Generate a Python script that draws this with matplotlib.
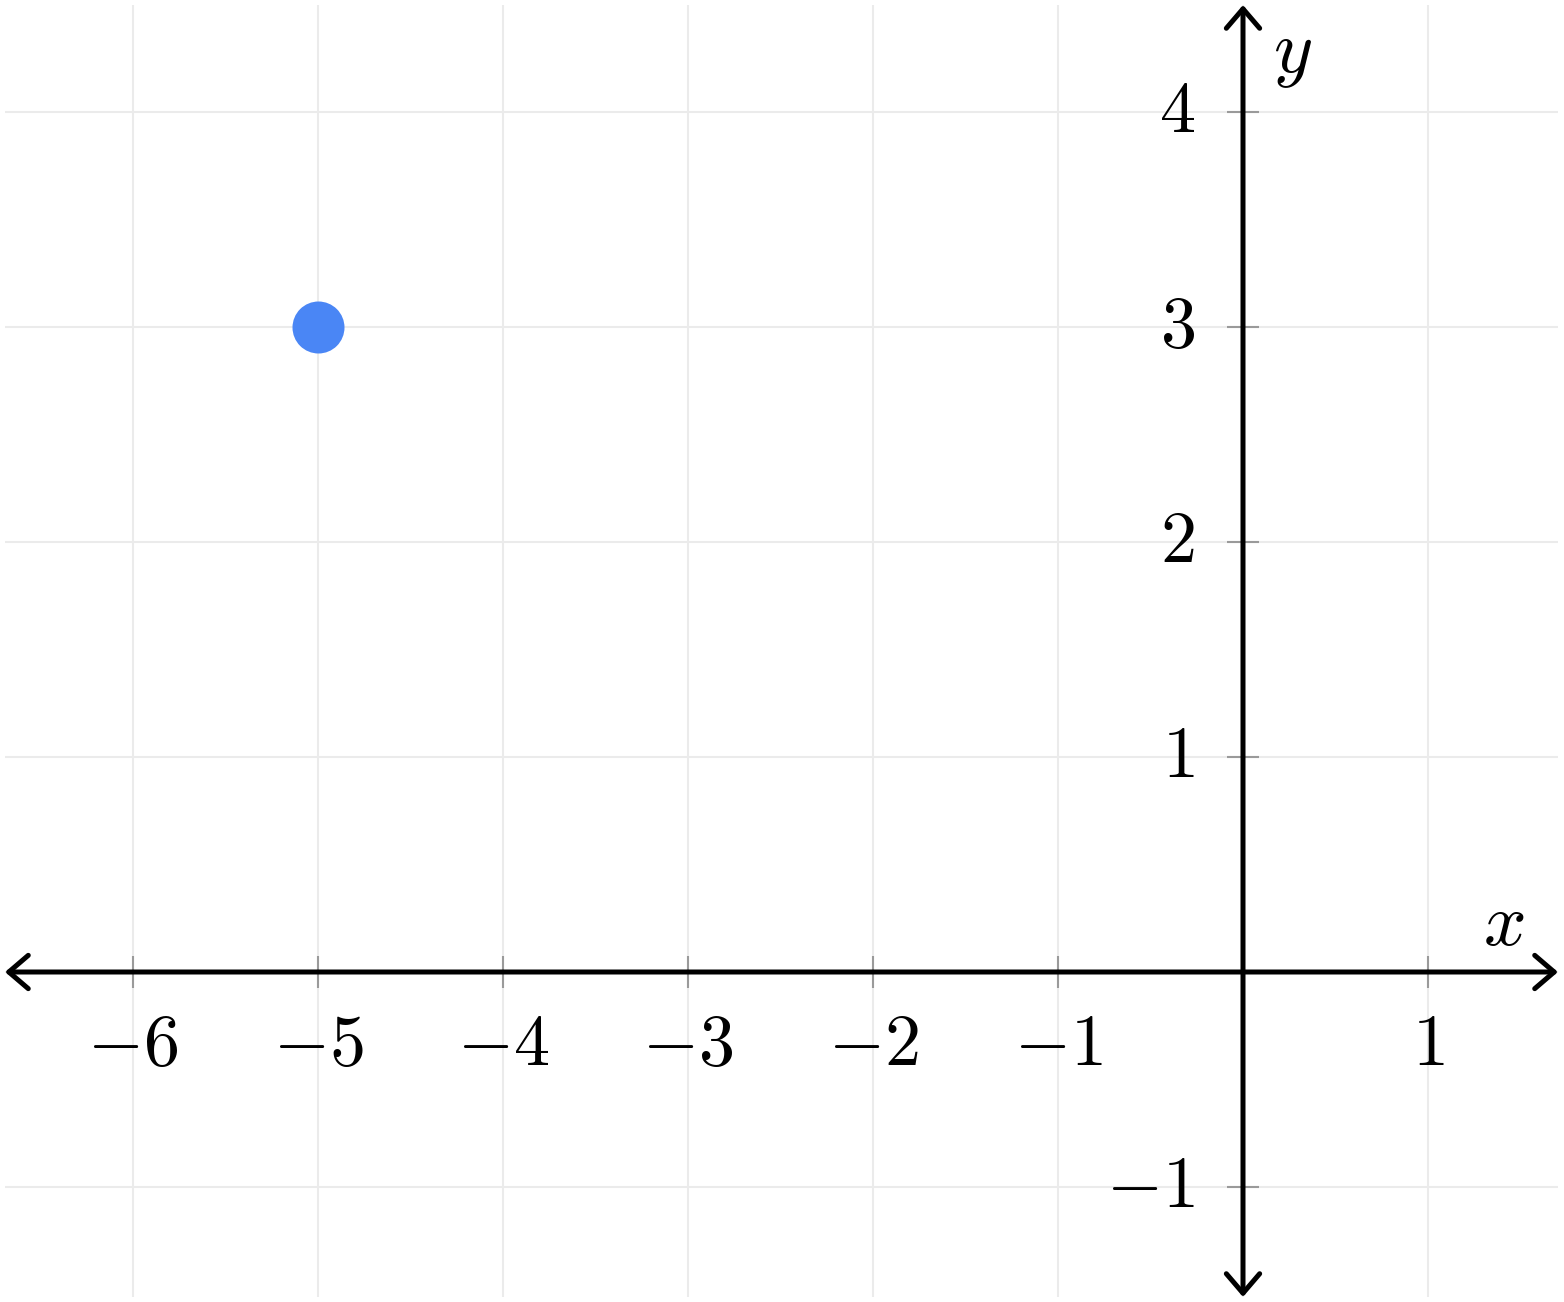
import matplotlib
matplotlib.use("Agg")
import matplotlib.pyplot as plt
from matplotlib.patches import FancyArrowPatch

plt.rcParams['mathtext.fontset'] = 'cm'
plt.rcParams['font.family'] = 'DejaVu Serif'

# data
point_x = [-5]
point_y = [3]
x_ticks = [-6, -5, -4, -3, -2, -1, 1]
y_ticks = [-1, 1, 2, 3, 4]
x_grid = [-6, -5, -4, -3, -2, -1, 0, 1]
y_grid = [-1, 0, 1, 2, 3, 4]

W, H, DPI = 1564, 1302, 100
fig = plt.figure(figsize=(W / DPI, H / DPI), dpi=DPI)
ax = fig.add_axes([0, 0, 1, 1])
ax.set_axis_off()

# pixel mapping: x=0 at px 1243, 185 px/unit; y=0 at px 972 (from top), 215 px/unit
xl = (-1243 / 185, (W - 1243) / 185)
yl = ((972 - H) / 215, 972 / 215)
ax.set_xlim(*xl)
ax.set_ylim(*yl)

gx0, gx1 = (5 - 1243) / 185, (1558 - 1243) / 185
gy0, gy1 = (972 - 1297) / 215, (972 - 5) / 215

grid_c = '#ebebeb'
ax.vlines(x_grid, gy0, gy1, colors=grid_c, lw=1.5, zorder=1)
ax.hlines(y_grid, gx0, gx1, colors=grid_c, lw=1.5, zorder=1)

# tick marks
tx = 16 / 185
ty = 16 / 215
tick_c = '#9a9a9a'
ax.vlines(x_ticks, -ty, ty, colors=tick_c, lw=1.5, zorder=2)
ax.hlines(y_ticks, -tx, tx, colors=tick_c, lw=1.5, zorder=2)

# axes with arrows
style = '<->,head_length=14,head_width=12'
for a, b in [((gx0, 0), (gx1, 0)), ((0, gy0), (0, gy1))]:
    ax.add_patch(FancyArrowPatch(a, b, arrowstyle=style, mutation_scale=1,
                                 lw=3.6, color='black', zorder=3, shrinkA=0, shrinkB=0,
                                 capstyle='round', joinstyle='round'))

fs = 52
for v in x_ticks:
    lab = r'$-%d$' % abs(v) if v < 0 else r'$%d$' % v
    ax.text(v, -73 / 215, lab, ha='center', va='center', fontsize=fs, zorder=4)
for v in y_ticks:
    lab = r'$-%d$' % abs(v) if v < 0 else r'$%d$' % v
    ax.text(-48 / 185, v, lab, ha='right', va='center', fontsize=fs, zorder=4)

ax.text(1.41, 0.22, r'$x$', ha='center', va='center', fontsize=fs + 2, zorder=4)
ax.text(0.27, 4.27, r'$y$', ha='center', va='center', fontsize=fs + 2, zorder=4)

ax.scatter(point_x, point_y, s=52**2 * (72 / DPI)**2, color='#4a86f5', zorder=5, linewidths=0)

fig.savefig('out.png', dpi=DPI, facecolor='white')
